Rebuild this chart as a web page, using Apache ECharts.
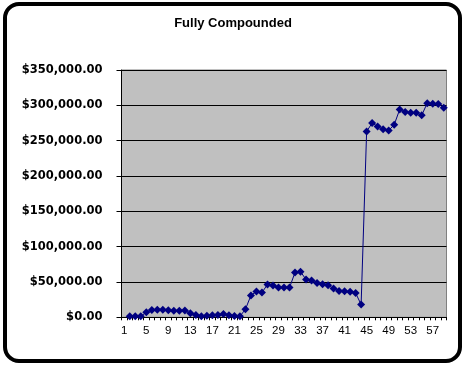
<!DOCTYPE html>
<html>
<head>
<meta charset="utf-8">
<script src="https://cdn.jsdelivr.net/npm/echarts@6/dist/echarts.min.js"></script>
<style>
html,body{margin:0;padding:0;background:#fff;}
#chart{width:466px;height:367px;}
</style>
</head>
<body>
<div id="chart"></div>
<script>
var titleText = 'Fully Compounded';
var categories = ['1','2','3','4','5','6','7','8','9','10','11','12','13','14','15','16','17','18','19','20',
  '21','22','23','24','25','26','27','28','29','30','31','32','33','34','35','36','37','38','39','40',
  '41','42','43','44','45','46','47','48','49','50','51','52','53','54','55','56','57','58','59'];
var values = [null, 1500, 1500, 1500, 7000, 10300, 10800, 10800, 10000, 9200,
  9200, 9600, 5700, 3300, 1600, 2200, 2900, 3300, 4500, 2900,
  2000, 1400, 11400, 31000, 36500, 35000, 46500, 45000, 42000, 42000,
  42000, 63500, 64500, 53500, 52000, 48700, 46800, 45400, 40700, 37200,
  36800, 36000, 34400, 18000, 263000, 275000, 270000, 266000, 264500, 272500,
  294000, 290500, 289500, 289500, 286000, 303000, 302400, 302000, 296700];
var yMin = 0, yMax = 350000, yStep = 50000;

function money(v){
  var s = Math.round(v).toString().replace(/\B(?=(\d{3})+(?!\d))/g, ',');
  return '$' + s + '.00';
}

var chart = echarts.init(document.getElementById('chart'), null, {renderer:'canvas'});
chart.setOption({
  animation: false,
  backgroundColor: '#ffffff',
  title: {
    text: titleText,
    left: 'center',
    top: 17,
    padding: 0,
    textStyle: {fontFamily: 'Arial, "Liberation Sans", sans-serif', fontSize: 13, fontWeight: 'bold', color: '#000'}
  },
  graphic: [{
    type: 'rect',
    shape: {x: 5, y: 4, width: 455, height: 357, r: 14},
    style: {fill: 'none', stroke: '#000', lineWidth: 4},
    silent: true,
    z: 100
  }],
  grid: {left: 121.5, right: 19.5, top: 70, bottom: 49.7, show: true, backgroundColor: '#c0c0c0', borderColor: '#808080', borderWidth: 1},
  xAxis: {
    type: 'category',
    data: categories,
    boundaryGap: true,
    axisLine: {show: true, lineStyle: {color: '#000', width: 1}},
    axisTick: {show: true, interval: 0, length: 3, lineStyle: {color: '#000'}},
    axisLabel: {interval: 3, margin: 8, fontFamily: 'Arial, "Liberation Sans", sans-serif', fontSize: 11.5, color: '#000'},
    splitLine: {show: false}
  },
  yAxis: {
    type: 'value',
    min: yMin, max: yMax, interval: yStep,
    axisLine: {show: true, lineStyle: {color: '#000', width: 1}},
    axisTick: {show: true, length: 5, lineStyle: {color: '#000'}},
    axisLabel: {margin: 19, formatter: money, fontFamily: '"DejaVu Sans", sans-serif', fontSize: 11.5, fontWeight: 'bold', color: '#000'},
    splitLine: {show: true, lineStyle: {color: '#000', width: 1}}
  },
  series: [{
    type: 'line',
    data: values,
    connectNulls: false,
    showAllSymbol: true,
    symbol: 'diamond',
    symbolSize: 8,
    itemStyle: {color: '#000080'},
    lineStyle: {color: '#000080', width: 1},
    z: 5
  }]
});
</script>
</body>
</html>
